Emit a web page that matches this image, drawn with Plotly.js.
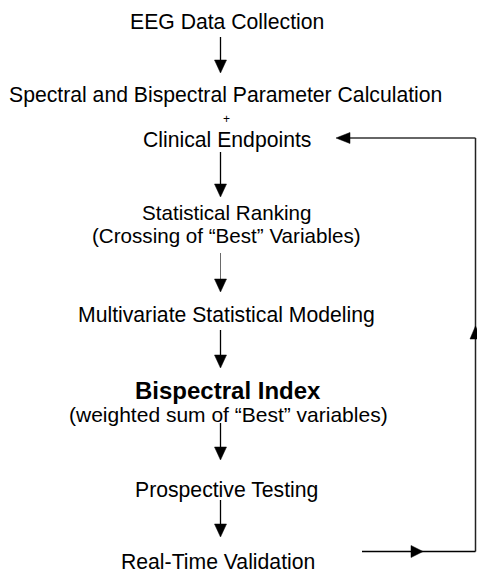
<!DOCTYPE html>
<html>
<head>
<meta charset="utf-8">
<script src="https://cdn.plot.ly/plotly-3.0.1.min.js"></script>
<style>html,body{margin:0;padding:0;background:#fff;}#chart{width:477px;height:575px;}</style>
</head>
<body>
<div id="chart"></div>
<script>
// Flowchart steps (text content)
const stepLabels = [
  "EEG Data Collection",
  "Spectral and Bispectral Parameter Calculation",
  "+",
  "Clinical Endpoints",
  "Statistical Ranking",
  "(Crossing of \u201cBest\u201d Variables)",
  "Multivariate Statistical Modeling",
  "<b>Bispectral Index</b>",
  "(weighted sum of \u201cBest\u201d variables)",
  "Prospective Testing",
  "Real-Time Validation"
];

// Layout (pixel-space positions, kept separate from content)
const labelX = [226.5, 225.7, 226, 226.7, 226.7, 226.7, 226.7, 227.5, 228, 226, 218.3];
const labelY = [21.5, 95, 119, 139.5, 212, 235, 314.5, 390, 414, 490, 561.5];
const labelSize = [21.2, 21.2, 12, 21.2, 20.6, 20.6, 21.2, 24, 21, 21.2, 21.2];

// Down arrows: [x, yStart, yTip, width, color]
const downArrows = [
  [220.5, 37, 73, 1.3, "#000"],
  [220.5, 152, 197, 1.3, "#000"],
  [220.5, 253, 292, 0.8, "#444"],
  [220.5, 330, 368, 1.3, "#000"],
  [220.5, 423, 460, 1.3, "#000"],
  [220.5, 500, 537, 1.3, "#000"]
];

const shapes = [];
const black = "#000";
downArrows.forEach(a => {
  const [x, y0, y1, w, c] = a;
  shapes.push({type: "line", xref: "x", yref: "y", x0: x, x1: x, y0: y0, y1: y1 - 6, line: {color: c, width: w}});
  shapes.push({type: "path", xref: "x", yref: "y",
    path: `M ${x - 6} ${y1 - 13} L ${x + 6} ${y1 - 13} L ${x} ${y1} Z`,
    fillcolor: black, line: {color: black, width: 0.5}});
});

// Feedback loop
const loopRight = 475.5, loopTop = 138, loopBottom = 551.5, loopLeftTop = 336, loopLeftBottom = 362;
shapes.push({type: "line", xref: "x", yref: "y", x0: loopLeftTop + 8, x1: loopRight, y0: loopTop, y1: loopTop, line: {color: "#333", width: 1.5}});
shapes.push({type: "line", xref: "x", yref: "y", x0: loopRight, x1: loopRight, y0: loopTop, y1: loopBottom, line: {color: "#222", width: 1.5}});
shapes.push({type: "line", xref: "x", yref: "y", x0: loopLeftBottom, x1: loopRight, y0: loopBottom, y1: loopBottom, line: {color: black, width: 1.5}});
// arrowhead pointing left at Clinical Endpoints
shapes.push({type: "path", xref: "x", yref: "y",
  path: `M ${loopLeftTop} ${loopTop} L ${loopLeftTop + 14} ${loopTop - 5.5} L ${loopLeftTop + 14} ${loopTop + 5.5} Z`,
  fillcolor: black, line: {color: black, width: 0.5}});
// arrowhead pointing right on bottom line
shapes.push({type: "path", xref: "x", yref: "y",
  path: `M 423 ${loopBottom} L 411 ${loopBottom - 6} L 411 ${loopBottom + 6} Z`,
  fillcolor: black, line: {color: black, width: 0.5}});
// arrowhead pointing up on right vertical line
shapes.push({type: "path", xref: "x", yref: "y",
  path: `M ${loopRight} 326 L ${loopRight - 5.5} 339 L ${loopRight + 5.5} 339 Z`,
  fillcolor: black, line: {color: black, width: 0.5}});

const annotations = stepLabels.map((t, i) => ({
  text: t, x: labelX[i], y: labelY[i], xref: "x", yref: "y",
  xanchor: "center", yanchor: "middle", showarrow: false, borderpad: 0,
  font: {family: "Arial, 'Liberation Sans', sans-serif", size: labelSize[i], color: "#000"}
}));

const layout = {
  width: 477, height: 575,
  margin: {l: 0, r: 0, t: 0, b: 0, pad: 0},
  paper_bgcolor: "#fff", plot_bgcolor: "#fff",
  xaxis: {range: [0, 477], visible: false, fixedrange: true},
  yaxis: {range: [575, 0], visible: false, fixedrange: true},
  showlegend: false,
  shapes: shapes,
  annotations: annotations
};

Plotly.newPlot("chart", [{x: [], y: [], type: "scatter", mode: "markers"}], layout, {displayModeBar: false, staticPlot: true});
</script>
</body>
</html>
